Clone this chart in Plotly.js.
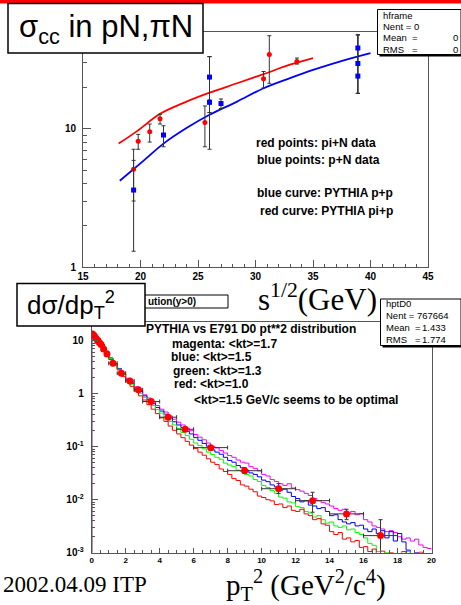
<!DOCTYPE html>
<html>
<head>
<meta charset="utf-8">
<script src="https://cdn.plot.ly/plotly-3.0.1.min.js"></script>
<style>
html,body{margin:0;padding:0;background:#fff;overflow:hidden;}
#chart{width:461px;height:605px;}
</style>
</head>
<body>
<div id="chart"></div>
<script>
// ---------- top panel data: sigma_cc vs sqrt(s) ----------
const piNX = [19.4, 19.8, 20.8, 21.7, 25.6, 26.0, 30.7, 31.2, 33.6];
const piNY = [5.1, 8.1, 9.5, 11.8, 11.1, 15.7, 23.0, 34.4, 30.6];
const piNErrUp = [2.0, 1.0, 1.3, 0.9, 3.5, 17.5, 2.9, 12.6, 1.8];
const piNErrDown = [2.1, 1.0, 1.5, 1.0, 3.7, 8.6, 3.3, 13.1, 1.3];

const pNX = [19.4, 22.0, 26.0, 26.0, 27.0, 38.9, 38.9, 38.9];
const pNY = [3.6, 9.0, 23.6, 15.5, 15.2, 38.3, 29.6, 24.0];
const pNErrUp = [2.3, 1.5, 9.6, 17.7, 1.2, 9.4, 18.1, 23.7];
const pNErrDown = [2.3, 1.6, 10.5, 2.4, 1.2, 20.3, 11.6, 6.0];

const pythiaPiX = [18.1, 19.7, 21.7, 23.7, 26.0, 28.4, 30.7, 33.0, 35.0];
const pythiaPiY = [7.8, 9.6, 12.8, 15.3, 18.2, 21.3, 24.8, 29.0, 32.4];
const pythiaPX = [18.2, 20.3, 22.0, 24.0, 26.0, 28.4, 30.7, 33.0, 35.0, 37.6, 40.0];
const pythiaPY = [4.2, 5.9, 7.8, 10.1, 12.6, 15.7, 19.6, 23.2, 26.6, 31.1, 35.2];

const topXTicks = [15, 20, 25, 30, 35, 40, 45];
const topYTickVals = [1, 10];
const topYTickText = ['1', '10'];

// ---------- bottom panel data: dsigma/dpT^2 ----------
const ptBinWidth = 0.25;
const histMagenta = [13.2,11.0,8.5,6.3,4.7,3.7,3.0,2.4,1.95,1.62,1.35,1.15,0.95,0.83,0.71,0.60,0.51,0.45,0.38,0.33,
  0.29,0.257,0.224,0.20,0.170,0.151,0.135,0.117,0.102,0.095,0.085,0.076,0.068,0.063,0.056,0.051,0.049,0.042,0.039,0.035,
  0.030,0.028,0.024,0.022,0.020,0.0186,0.020,0.0166,0.0155,0.0145,0.0132,0.012,0.0105,0.0095,0.0089,0.0083,0.0076,0.0068,0.0063,0.0066,
  0.0056,0.0060,0.0052,0.0055,0.0042,0.0038,0.0032,0.0030,0.0028,0.0025,0.0026,0.0024,0.0020,0.0018,0.0019,0.00166,0.0018,0.0014,0.00126,0.0012];
const histBlue = [12.9,11.0,8.5,6.3,4.7,3.7,2.95,2.34,1.86,1.55,1.29,1.10,0.91,0.78,0.66,0.55,0.47,0.41,0.35,0.295,
  0.257,0.229,0.195,0.174,0.148,0.132,0.115,0.102,0.087,0.079,0.072,0.063,0.055,0.051,0.044,0.040,0.036,0.032,0.030,0.027,
  0.0234,0.0219,0.019,0.0174,0.0151,0.0158,0.0138,0.0115,0.0105,0.0091,0.0095,0.0079,0.0076,0.0068,0.0071,0.0060,0.0050,0.0052,0.0042,0.0038,
  0.0035,0.0037,0.0032,0.0033,0.0028,0.0025,0.0028,0.0023,0.0026,0.0019,0.0025,0.00166,0.0023,0.0016,0.00112,0.0008,0.001,0.0005,0.00063,0.0004];
const histGreen = [12.9,11.2,8.5,6.3,4.6,3.6,2.9,2.3,1.82,1.51,1.26,1.02,0.85,0.72,0.60,0.50,0.43,0.36,0.30,0.257,
  0.219,0.186,0.162,0.138,0.117,0.105,0.091,0.079,0.071,0.063,0.058,0.049,0.045,0.042,0.036,0.034,0.030,0.028,0.024,0.022,
  0.0186,0.017,0.0148,0.0132,0.0112,0.0107,0.0091,0.0087,0.0074,0.0071,0.0060,0.0056,0.0047,0.0050,0.0042,0.0036,0.0038,0.0032,0.0030,0.0032,
  0.0027,0.0028,0.0024,0.0022,0.0019,0.0015,0.00138,0.00105,0.0008,0.001,0.0005,0.00063,0.0004,0.00063,0.00105,0.0005,0.00063,0.0004,0.0005,0.0003];
const histRed = [12.9,11.2,8.5,6.2,4.4,3.5,2.8,2.1,1.7,1.38,1.12,0.91,0.76,0.62,0.51,0.42,0.35,0.30,0.245,0.204,
  0.174,0.148,0.126,0.107,0.093,0.079,0.069,0.059,0.051,0.046,0.038,0.034,0.030,0.025,0.023,0.019,0.018,0.0158,0.0141,0.0117,
  0.011,0.010,0.0095,0.0081,0.0083,0.0071,0.0076,0.0063,0.0060,0.0066,0.0054,0.0050,0.0042,0.0044,0.0035,0.0033,0.0025,0.0022,0.0024,0.0018,
  0.0019,0.0016,0.0017,0.00126,0.0013,0.00105,0.00117,0.00089,0.00107,0.00063,0.001,0.0005,0.0008,0.00105,0.0005,0.0008,0.0004,0.00102,0.0005,0.00063];

const e791X = [0.05,0.15,0.25,0.35,0.45,0.55,0.7,0.9,1.25,1.75,2.25,2.75,3.5,4.5,5.5,7,9,11,13,15,17];
const e791Y = [13.4,12.4,11.1,10.0,9.2,8.5,7.0,5.6,3.75,2.43,1.74,1.18,0.71,0.36,0.213,0.096,0.0352,0.0161,0.0096,0.0054,0.0021];
const e791XErr = [0.05,0.05,0.05,0.05,0.05,0.05,0.1,0.1,0.25,0.25,0.25,0.25,0.5,0.5,0.5,1,1,1,1,1,1];
const e791YErrUp = [0.4,0.4,0.35,0.3,0.3,0.3,0.25,0.2,0.15,0.1,0.08,0.06,0.04,0.025,0.02,0.009,0.005,0.004,0.0042,0.0012,0.0021];
const e791YErrDown = [0.4,0.4,0.35,0.3,0.3,0.3,0.25,0.2,0.15,0.1,0.08,0.06,0.04,0.025,0.02,0.008,0.004,0.003,0.0038,0.0012,0.0015];

const botYTickVals = [0.001, 0.01, 0.1, 1, 10];
const botYTickText = ['10<sup>-3</sup>', '10<sup>-2</sup>', '10<sup>-1</sup>', '1', '10'];

// ---------- helpers ----------
const W = 461, H = 605;
const PX = p => p / W;
const PY = p => 1 - p / H;
const SANS = 'Liberation Sans, Arial, Helvetica, sans-serif';
const SERIF = 'Liberation Serif, Times New Roman, serif';
const AX = '#555';

function histXY(vals) {
  const x = [0], y = [1e-5];
  for (let i = 0; i < vals.length; i++) { x.push(i * ptBinWidth); y.push(vals[i]); }
  x.push(vals.length * ptBinWidth); y.push(vals[vals.length - 1]);
  return {x, y};
}
function minorLog(decLo, decHi) {
  const out = [];
  for (let d = decLo; d <= decHi; d++) for (let m = 2; m <= 9; m++) out.push(m * Math.pow(10, d));
  return out;
}
function ann(text, px, py, size, opts) {
  return Object.assign({
    text: text, x: PX(px), y: PY(py), xref: 'paper', yref: 'paper',
    xanchor: 'left', yanchor: 'middle', showarrow: false,
    font: {family: SANS, size: size, color: '#000'}
  }, opts || {});
}
function rect(x0, y0, x1, y1, fill, lineColor, lineWidth) {
  return {type: 'rect', xref: 'paper', yref: 'paper', x0: PX(x0), x1: PX(x1), y0: PY(y1), y1: PY(y0),
    fillcolor: fill, line: {color: lineColor || 'rgba(0,0,0,0)', width: lineWidth || 0}, layer: 'above'};
}

const traces = [];
// top panel
traces.push({x: pythiaPiX, y: pythiaPiY, xaxis: 'x', yaxis: 'y', mode: 'lines', line: {color: '#ff0000', width: 1.8, shape: 'spline'}, hoverinfo: 'skip'});
traces.push({x: pythiaPX, y: pythiaPY, xaxis: 'x', yaxis: 'y', mode: 'lines', line: {color: '#0000ff', width: 1.8, shape: 'spline'}, hoverinfo: 'skip'});
traces.push({x: piNX, y: piNY, xaxis: 'x', yaxis: 'y', mode: 'markers', marker: {color: '#ff0000', size: 5, symbol: 'circle'},
  error_y: {type: 'data', symmetric: false, array: piNErrUp, arrayminus: piNErrDown, color: '#333', thickness: 1, width: 2}, hoverinfo: 'skip'});
traces.push({x: pNX, y: pNY, xaxis: 'x', yaxis: 'y', mode: 'markers', marker: {color: '#0000ff', size: 5, symbol: 'square'},
  error_y: {type: 'data', symmetric: false, array: pNErrUp, arrayminus: pNErrDown, color: '#333', thickness: 1, width: 2}, hoverinfo: 'skip'});

// bottom panel histograms
[[histMagenta, '#ff00ff'], [histBlue, '#0000ff'], [histGreen, '#00ff00'], [histRed, '#ff0000']].forEach(([v, c]) => {
  const h = histXY(v);
  traces.push({x: h.x, y: h.y, xaxis: 'x2', yaxis: 'y2', mode: 'lines', line: {color: c, width: 1, shape: 'hv'}, hoverinfo: 'skip'});
});
traces.push({x: e791X, y: e791Y, xaxis: 'x2', yaxis: 'y2', mode: 'markers', marker: {color: '#ff0000', size: 7, symbol: 'circle'},
  error_x: {type: 'data', array: e791XErr, color: '#333', thickness: 1, width: 2},
  error_y: {type: 'data', symmetric: false, array: e791YErrUp, arrayminus: e791YErrDown, color: '#333', thickness: 1, width: 2},
  hoverinfo: 'skip'});

const axCommon = {showline: true, mirror: true, linecolor: AX, linewidth: 1, ticks: 'inside', tickcolor: AX, tickwidth: 1,
  showgrid: false, zeroline: false, fixedrange: true};

const layout = {
  width: W, height: H, margin: {l: 0, r: 0, t: 0, b: 0}, paper_bgcolor: '#fff', plot_bgcolor: '#fff', showlegend: false,
  xaxis: Object.assign({}, axCommon, {domain: [PX(83), PX(428)], anchor: 'y', range: [15, 45], tickmode: 'array', tickvals: topXTicks,
    ticklen: 7, minor: {dtick: 1, tick0: 15, ticklen: 3.5, ticks: 'inside', tickcolor: AX},
    tickfont: {family: SANS, size: 10, color: '#000', weight: 'bold'}}),
  yaxis: Object.assign({}, axCommon, {domain: [PY(267), PY(32)], anchor: 'x', type: 'log', range: [0, Math.log10(50)],
    tickmode: 'array', tickvals: topYTickVals, ticktext: topYTickText, ticklen: 8, ticklabelstandoff: 4,
    minor: {tickmode: 'array', tickvals: minorLog(0, 1), ticklen: 4, ticks: 'inside', tickcolor: AX},
    tickfont: {family: SANS, size: 10, color: '#000', weight: 'bold'}}),
  xaxis2: Object.assign({}, axCommon, {domain: [PX(91.7), PX(431.5)], anchor: 'y2', range: [0, 20], dtick: 2, tick0: 0,
    ticklen: 5, minor: {dtick: 0.5, tick0: 0, ticklen: 3, ticks: 'inside', tickcolor: AX},
    tickfont: {family: SANS, size: 8, color: '#000', weight: 'bold'}}),
  yaxis2: Object.assign({}, axCommon, {domain: [PY(552.7), PY(321.7)], anchor: 'x2', type: 'log', range: [-3, Math.log10(22.8)],
    tickmode: 'array', tickvals: botYTickVals, ticktext: botYTickText, ticklen: 6, ticklabelstandoff: 5,
    minor: {tickmode: 'array', tickvals: minorLog(-3, 1), ticklen: 3, ticks: 'inside', tickcolor: AX},
    tickfont: {family: SANS, size: 10, color: '#000', weight: 'bold'}}),
  shapes: [
    rect(0, 0, 461, 3.5, '#ff0000'),
    // top title box
    rect(8, 3.5, 203, 53, '#ffffff', '#000', 1.5),
    // top stats box (shadow + box)
    rect(379.5, 12, 463, 56.5, '#000'),
    rect(377.5, 9.5, 461, 54.5, '#ffffff', '#000', 1),
    // bottom hidden-title box
    rect(120, 295, 228, 308, '#ffffff', '#000', 1),
    // bottom title box
    rect(17, 283.5, 145, 326, '#ffffff', '#000', 1.5),
    // bottom stats box
    rect(382.5, 301.5, 463, 347.5, '#000'),
    rect(380.5, 299, 461, 345.5, '#ffffff', '#000', 1)
  ],
  annotations: [
    ann('σ<sub>cc</sub> in pN,πN', 17, 29, 31),
    ann('hframe', 381, 15, 9.5),
    ann('Nent = 0', 381, 26, 9.5),
    ann('Mean  =', 381, 37.5, 9.5),
    ann('0', 460, 37.5, 9.5, {xanchor: 'right'}),
    ann('RMS   =', 381, 49, 9.5),
    ann('0', 460, 49, 9.5, {xanchor: 'right'}),
    ann('<b>red points: pi+N data</b>', 254, 143, 12),
    ann('<b>blue points: p+N data</b>', 255, 160, 12),
    ann('<b>blue curve: PYTHIA p+p</b>', 255, 193, 12),
    ann('<b>red curve: PYTHIA pi+p</b>', 258, 211, 12),
    ann('s<sup>1/2</sup>(GeV)', 256, 297, 31, {font: {family: SERIF, size: 31, color: '#000'}}),
    ann('<b>ution(y&gt;0)</b>', 146, 301.5, 10),
    ann('dσ/dp<sub>T</sub><sup>2</sup>', 25, 305, 26),
    ann('hptD0', 384, 303.5, 9.5),
    ann('Nent = 767664', 384, 315, 9.5),
    ann('Mean  =', 384, 327.5, 9.5),
    ann('1.433', 448, 327.5, 9.5, {xanchor: 'right'}),
    ann('RMS   =', 384, 339, 9.5),
    ann('1.774', 448, 339, 9.5, {xanchor: 'right'}),
    ann('<b>PYTHIA vs E791 D0 pt**2 distribution</b>', 144, 329, 12),
    ann('<b>magenta: &lt;kt&gt;=1.7</b>', 170, 344, 12),
    ann('<b>blue: &lt;kt&gt;=1.5</b>', 169, 357, 12),
    ann('<b>green: &lt;kt&gt;=1.3</b>', 171, 371, 12),
    ann('<b>red: &lt;kt&gt;=1.0</b>', 172, 384, 12),
    ann('<b>&lt;kt&gt;=1.5 GeV/c seems to be optimal</b>', 192, 400, 12),
    ann('2002.04.09 ITP', 1, 584, 23, {font: {family: SERIF, size: 23, color: '#000'}}),
    ann('p<sub>T</sub><sup>2</sup> (GeV<sup>2</sup>/c<sup>4</sup>)', 224, 585, 29, {font: {family: SERIF, size: 29, color: '#000'}})
  ]
};

Plotly.newPlot('chart', traces, layout, {staticPlot: true, displayModeBar: false});
</script>
</body>
</html>
